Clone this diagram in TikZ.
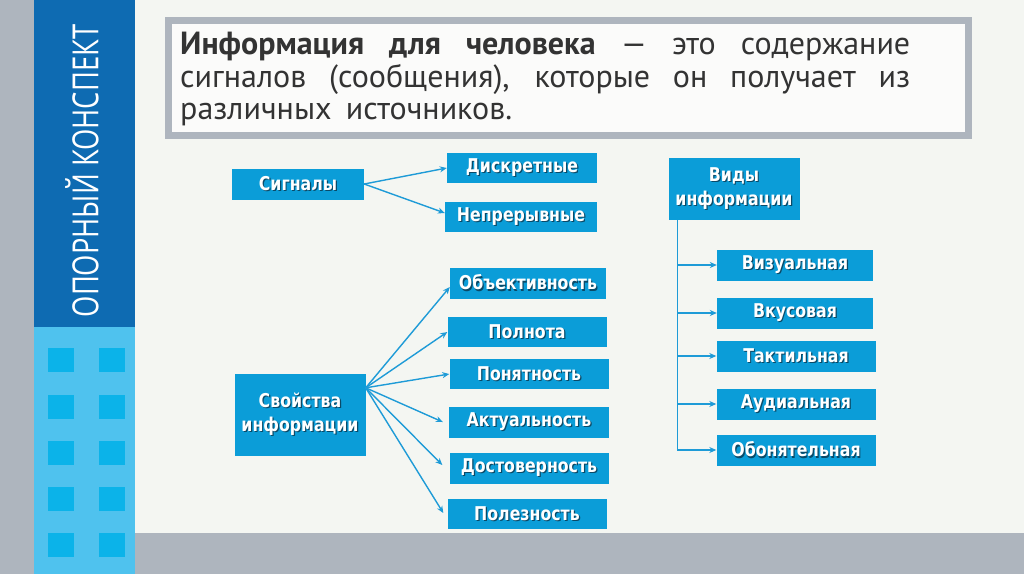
\documentclass[tikz,border=0pt]{standalone}
\usepackage{fontspec}
\setmainfont{PT Sans}
\newfontfamily\boxfont[FakeStretch=0.83]{DejaVu Sans}
\newfontfamily\sidefont[FakeStretch=0.76]{Open Sans}
\usetikzlibrary{arrows.meta,positioning}

\definecolor{sidegray}{HTML}{AEB5BE}
\definecolor{darkblue}{HTML}{0E6BB2}
\definecolor{lightblue}{HTML}{4FC2EE}
\definecolor{sqblue}{HTML}{0BB3E9}
\definecolor{pagebg}{HTML}{F4F6F2}
\definecolor{boxblue}{HTML}{0B9DD8}
\definecolor{arrowblue}{HTML}{1E9BD7}
\definecolor{boxshadow}{HTML}{0A4A68}
\definecolor{deftext}{HTML}{333333}

% white text with a small dark shadow
\newcommand\shad[1]{\makebox[0pt][l]{\raisebox{-1.2pt}{\hspace{1.2pt}\textcolor{boxshadow}{#1}}}#1}

\tikzset{
  infobox/.style={fill=boxblue, text=white, inner sep=0pt, align=center,
    minimum height=31pt, font=\boxfont\bfseries\fontsize{19}{24}\selectfont},
  arr/.style={draw=arrowblue, line width=1.4pt, -{Stealth[length=7pt,width=6pt]}},
}

\begin{document}
\begin{tikzpicture}[x=1pt, y=-1pt]
  \useasboundingbox (0,0) rectangle (1024,574);

  % background and side strips
  \fill[pagebg] (135,0) rectangle (1024,533);
  \fill[sidegray] (0,0) rectangle (34,574);
  \fill[sidegray] (135,533) rectangle (1024,574);
  \fill[darkblue] (34,0) rectangle (135,327);
  \fill[lightblue] (34,327) rectangle (135,574);
  \foreach \y in {348,395,441,487,533} {
    \foreach \x in {48,99} {
      \fill[sqblue] (\x,\y) rectangle ++(26,24);
    }
  }
  \node[rotate=90, text=white, font=\sidefont\fontsize{36}{36}\selectfont] (side) at (82,171) {ОПОРНЫЙ КОНСПЕКТ};

  % definition
  \draw[draw=sidegray, line width=7pt, fill=white!60!pagebg] (168.5,20.5) rectangle (968.5,135.5);
  \node[anchor=north west, align=left, inner sep=0pt, text=deftext,
        font={\fontsize{32}{32.5}\selectfont\spaceskip=0.45em plus 1em\relax}] (def) at (180,32)
    {\makebox[730pt][s]{\textbf{Информация для человека} — это содержание}\\
     \makebox[730pt][s]{сигналов (сообщения), которые он получает из}\\
     различных источников.};

  % signals
  \node[infobox, minimum width=132pt] (sig) at (298,184) {\shad{Сигналы}};
  \node[infobox, minimum width=150pt, minimum height=30pt] (disc) at (522,168) {\shad{Дискретные}};
  \node[infobox, minimum width=152pt, minimum height=30pt] (cont) at (521,217) {\shad{Непрерывные}};
  \draw[arr] (sig.east) -- (disc.west);
  \draw[arr] (sig.east) -- ([yshift=4pt]cont.west);

  % properties
  \node[infobox, minimum width=131pt, minimum height=82pt] (prop) at (300,415) {\shad{Свойства}\\\shad{информации}};
  \node[infobox, minimum width=156pt] (obj) at (528,283) {\shad{Объективность}};
  \node[infobox, minimum width=159pt, minimum height=30pt] (full) at (527,332) {\shad{Полнота}};
  \node[infobox, minimum width=159pt, minimum height=30pt] (clear) at (529,374) {\shad{Понятность}};
  \node[infobox, minimum width=160pt] (actual) at (529,422) {\shad{Актуальность}};
  \node[infobox, minimum width=159pt] (true) at (529,468) {\shad{Достоверность}};
  \node[infobox, minimum width=159pt, minimum height=30pt] (useful) at (527,514) {\shad{Полезность}};
  \coordinate (pfork) at ([yshift=-14pt]prop.north east);
  \draw[arr] (pfork) -- ([yshift=-4pt]obj.west);
  \draw[arr] (pfork) -- (full.west);
  \draw[arr] (pfork) -- (clear.west);
  \draw[arr] (pfork) -- ([xshift=-6pt]actual.west);
  \draw[arr] (pfork) -- ([xshift=-7pt, yshift=3pt]true.west);
  \draw[arr] (pfork) -- ([xshift=-4pt, yshift=1pt]useful.west);

  % kinds
  \node[infobox, minimum width=131pt, minimum height=62pt] (kinds) at (734,189) {\shad{Виды}\\\shad{информации}};
  \node[infobox, minimum width=156pt] (vis) at (795,265) {\shad{Визуальная}};
  \node[infobox, minimum width=156pt] (taste) at (795,313) {\shad{Вкусовая}};
  \node[infobox, minimum width=159pt] (touch) at (796,356) {\shad{Тактильная}};
  \node[infobox, minimum width=159pt] (audio) at (796,404) {\shad{Аудиальная}};
  \node[infobox, minimum width=159pt] (smell) at (796,450) {\shad{Обонятельная}};
  \coordinate (trunk) at ([xshift=9pt]kinds.south west);
  \draw[arr] (trunk) |- (smell.west);
  \foreach \n in {vis,taste,touch,audio} {
    \draw[arr] (trunk |- \n.west) -- (\n.west);
  }
\end{tikzpicture}
\end{document}
